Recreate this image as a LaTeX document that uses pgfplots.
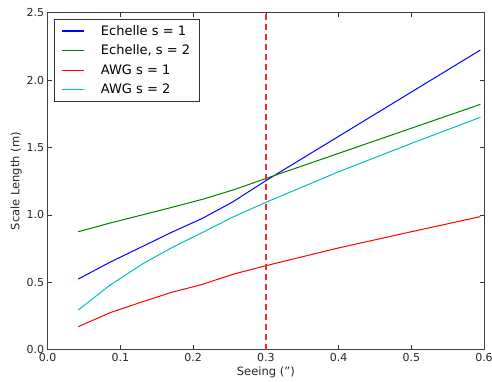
\documentclass[border=0pt]{standalone}
\usepackage{pgfplots}
\pgfplotsset{compat=1.18}
\usepackage{fontspec}
\setmainfont{DejaVu Sans}
\definecolor{mplb}{rgb}{0,0,1}
\definecolor{mplg}{rgb}{0,0.5,0}
\definecolor{mplr}{rgb}{1,0,0}
\definecolor{mplc}{rgb}{0,0.75,0.75}
\begin{document}
\begin{tikzpicture}[x=1pt,y=1pt]
\useasboundingbox (-47.7,-31.3) rectangle (444.3,349.7);
\begin{axis}[
  at={(0,0)}, anchor=south west,
  scale only axis, width=436.3pt, height=337pt,
  xmin=0, xmax=0.6, ymin=0, ymax=2.5,
  xtick={0,0.1,...,0.6}, ytick={0,0.5,...,2.5},
  /pgf/number format/assume math mode=true,
  /pgf/number format/fixed, /pgf/number format/fixed zerofill,
  /pgf/number format/precision=1,
  tick align=inside, tick pos=both,
  major tick length=4.5pt,
  tick style={black!80, line width=0.6pt},
  axis line style={line width=1pt, black!75},
  ticklabel style={font=\fontsize{11}{13}\selectfont, text=black!85},
  xlabel={Seeing (")}, ylabel={Scale Length (m)},
  label style={font=\fontsize{11.5}{13}\selectfont, text=black!85},
  xlabel style={yshift=2pt},
  ylabel style={yshift=-2pt},
  legend style={at={(rel axis cs:0,1)}, anchor=north west, xshift=6.6pt, yshift=-6.3pt,
    font=\fontsize{13}{15}\selectfont, draw=black!80, line width=0.8pt,
    row sep=4.2pt, inner xsep=7pt, inner ysep=4pt, cells={anchor=west}},
  /tikz/every odd column/.append style={column sep=14pt},
  legend image code/.code={\draw[#1, line width=1.2pt, solid] (0pt,0pt) -- (22pt,0pt);},
  every axis plot/.append style={line width=1pt},
]
\addplot[color=mplb] coordinates {(0.042,0.524) (0.086,0.65) (0.13,0.765) (0.17,0.87) (0.213,0.975) (0.255,1.098) (0.3,1.254) (0.595,2.223)};
\addlegendentry{Echelle s = 1}
\addplot[color=mplg] coordinates {(0.042,0.875) (0.086,0.94) (0.13,1.0) (0.17,1.055) (0.213,1.116) (0.255,1.185) (0.3,1.27) (0.595,1.82)};
\addlegendentry{Echelle, s = 2}
\addplot[color=mplr] coordinates {(0.042,0.171) (0.086,0.275) (0.13,0.355) (0.17,0.425) (0.213,0.485) (0.255,0.56) (0.3,0.623) (0.4,0.755) (0.5,0.875) (0.595,0.987)};
\addlegendentry{AWG s = 1}
\addplot[color=mplc] coordinates {(0.042,0.295) (0.086,0.48) (0.13,0.635) (0.17,0.755) (0.213,0.87) (0.255,0.985) (0.3,1.093) (0.4,1.32) (0.5,1.53) (0.595,1.724)};
\addlegendentry{AWG s = 2}
\addplot[color=mplr, draw=mplr!85, line width=1.3pt, dash pattern=on 6pt off 4pt, forget plot] coordinates {(0.3,0) (0.3,2.5)};
\end{axis}
\end{tikzpicture}
\end{document}
